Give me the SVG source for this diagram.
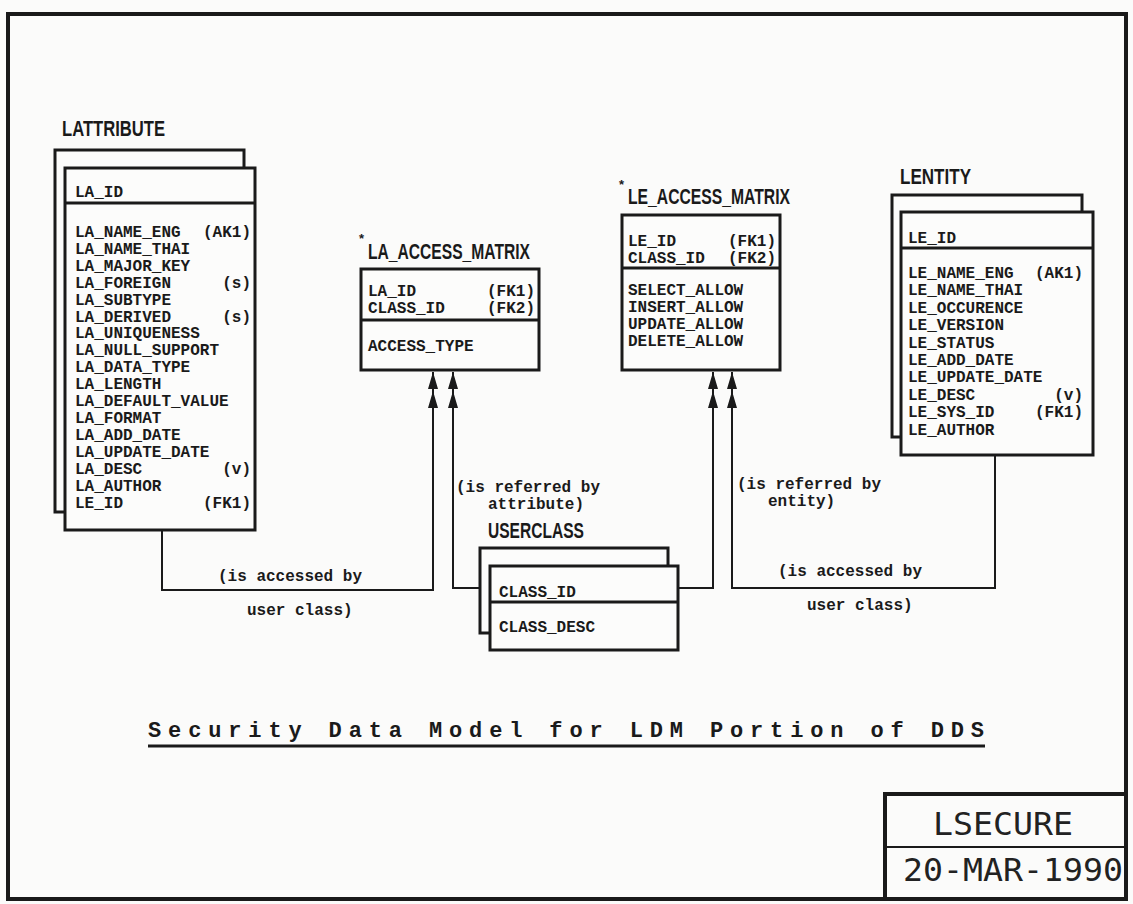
<svg xmlns="http://www.w3.org/2000/svg" width="1133" height="904" viewBox="0 0 1133 904">
  <style>
    .frame { fill: none; stroke: #1a1a1a; }
    .box { fill: #fcfcfb; stroke: #1a1a1a; stroke-width: 3; }
    .sep { stroke: #1a1a1a; stroke-width: 3; }
    .row { font-family: "Liberation Mono", monospace; font-weight: bold; font-size: 16px; fill: #1a1a1a; }
    .note { text-anchor: end; }
    .head { font-family: "Liberation Sans", Arial, sans-serif; font-weight: bold; font-size: 22px; fill: #1a1a1a; }
    .star { font-family: "Liberation Sans", Arial, sans-serif; font-weight: bold; font-size: 13px; fill: #1a1a1a; }
    .lbl { font-family: "Liberation Mono", monospace; font-weight: bold; font-size: 16px; fill: #1a1a1a; }
    .link { fill: none; stroke: #1a1a1a; stroke-width: 2; }
    .title { font-family: "Liberation Mono", monospace; font-weight: bold; font-size: 22px; fill: #1a1a1a; }
    .stamp { font-family: "DejaVu Sans Mono", "Liberation Mono", monospace; font-size: 32px; fill: #222; }
  </style>
  <defs>
    <!-- double filled arrowhead ("many" end) -->
    <marker id="many" markerUnits="userSpaceOnUse" viewBox="-40 -7 42 14" refX="0" refY="0" markerWidth="42" markerHeight="14" orient="auto">
      <path d="M0,0 L-17,-5 L-17,5 Z M-19,0 L-36,-5 L-36,5 Z" fill="#1a1a1a"/>
    </marker>
  </defs>

  <rect width="1133" height="904" fill="#fbfbfa"/>

  <!-- page frame -->
  <rect class="frame" x="8" y="14" width="1118" height="885" stroke-width="4"/>

  <!-- connectors -->
  <g id="connectors">
    <path class="link" d="M162,530 V590 H433 V372" marker-end="url(#many)"/>
    <path class="link" d="M480,588 H453 V372" marker-end="url(#many)"/>
    <path class="link" d="M678,588 H713 V372" marker-end="url(#many)"/>
    <path class="link" d="M995,455 V588 H732 V372" marker-end="url(#many)"/>
    <text class="lbl" x="218" y="581">(is accessed by</text>
    <text class="lbl" x="247" y="615">user class)</text>
    <text class="lbl" x="456" y="492">(is referred by</text>
    <text class="lbl" x="488" y="509">attribute)</text>
    <text class="lbl" x="737" y="489">(is referred by</text>
    <text class="lbl" x="768" y="506">entity)</text>
    <text class="lbl" x="778" y="576">(is accessed by</text>
    <text class="lbl" x="807" y="610">user class)</text>
  </g>

  <!-- LATTRIBUTE -->
  <g id="lattribute">
    <text class="head" x="62" y="136" textLength="103" lengthAdjust="spacingAndGlyphs">LATTRIBUTE</text>
    <rect class="box" x="55" y="150" width="189" height="362"/>
    <rect class="box" x="65" y="168" width="190" height="362"/>
    <line class="sep" x1="65" y1="203" x2="255" y2="203"/>
    <text class="row" x="75" y="197">LA_ID</text>
    <text class="row" x="75" y="237">LA_NAME_ENG</text><text class="row note" x="251" y="237">(AK1)</text>
    <text class="row" x="75" y="254">LA_NAME_THAI</text>
    <text class="row" x="75" y="271">LA_MAJOR_KEY</text>
    <text class="row" x="75" y="288">LA_FOREIGN</text><text class="row note" x="251" y="288">(s)</text>
    <text class="row" x="75" y="305">LA_SUBTYPE</text>
    <text class="row" x="75" y="322">LA_DERIVED</text><text class="row note" x="251" y="322">(s)</text>
    <text class="row" x="75" y="338">LA_UNIQUENESS</text>
    <text class="row" x="75" y="355">LA_NULL_SUPPORT</text>
    <text class="row" x="75" y="372">LA_DATA_TYPE</text>
    <text class="row" x="75" y="389">LA_LENGTH</text>
    <text class="row" x="75" y="406">LA_DEFAULT_VALUE</text>
    <text class="row" x="75" y="423">LA_FORMAT</text>
    <text class="row" x="75" y="440">LA_ADD_DATE</text>
    <text class="row" x="75" y="457">LA_UPDATE_DATE</text>
    <text class="row" x="75" y="474">LA_DESC</text><text class="row note" x="251" y="474">(v)</text>
    <text class="row" x="75" y="491">LA_AUTHOR</text>
    <text class="row" x="75" y="508">LE_ID</text><text class="row note" x="251" y="508">(FK1)</text>
  </g>

  <!-- LA_ACCESS_MATRIX -->
  <g id="la_access_matrix">
    <text class="star" x="359" y="243">*</text>
    <text class="head" x="368" y="259" textLength="162" lengthAdjust="spacingAndGlyphs">LA_ACCESS_MATRIX</text>
    <rect class="box" x="361" y="269" width="178" height="101"/>
    <line class="sep" x1="361" y1="320" x2="539" y2="320"/>
    <text class="row" x="368" y="296">LA_ID</text><text class="row note" x="535" y="296">(FK1)</text>
    <text class="row" x="368" y="313">CLASS_ID</text><text class="row note" x="535" y="313">(FK2)</text>
    <text class="row" x="368" y="351">ACCESS_TYPE</text>
  </g>

  <!-- LE_ACCESS_MATRIX -->
  <g id="le_access_matrix">
    <text class="star" x="619" y="189">*</text>
    <text class="head" x="628" y="204" textLength="162" lengthAdjust="spacingAndGlyphs">LE_ACCESS_MATRIX</text>
    <rect class="box" x="622" y="215" width="158" height="155"/>
    <line class="sep" x1="622" y1="268" x2="780" y2="268"/>
    <text class="row" x="628" y="246">LE_ID</text><text class="row note" x="776" y="246">(FK1)</text>
    <text class="row" x="628" y="263">CLASS_ID</text><text class="row note" x="776" y="263">(FK2)</text>
    <text class="row" x="628" y="295">SELECT_ALLOW</text>
    <text class="row" x="628" y="312">INSERT_ALLOW</text>
    <text class="row" x="628" y="329">UPDATE_ALLOW</text>
    <text class="row" x="628" y="346">DELETE_ALLOW</text>
  </g>

  <!-- LENTITY -->
  <g id="lentity">
    <text class="head" x="900" y="184" textLength="71" lengthAdjust="spacingAndGlyphs">LENTITY</text>
    <rect class="box" x="892" y="195" width="190" height="242"/>
    <rect class="box" x="901" y="212" width="192" height="243"/>
    <line class="sep" x1="901" y1="248" x2="1093" y2="248"/>
    <text class="row" x="908" y="243">LE_ID</text>
    <text class="row" x="908" y="278">LE_NAME_ENG</text><text class="row note" x="1083" y="278">(AK1)</text>
    <text class="row" x="908" y="295">LE_NAME_THAI</text>
    <text class="row" x="908" y="313">LE_OCCURENCE</text>
    <text class="row" x="908" y="330">LE_VERSION</text>
    <text class="row" x="908" y="348">LE_STATUS</text>
    <text class="row" x="908" y="365">LE_ADD_DATE</text>
    <text class="row" x="908" y="382">LE_UPDATE_DATE</text>
    <text class="row" x="908" y="400">LE_DESC</text><text class="row note" x="1083" y="400">(v)</text>
    <text class="row" x="908" y="417">LE_SYS_ID</text><text class="row note" x="1083" y="417">(FK1)</text>
    <text class="row" x="908" y="435">LE_AUTHOR</text>
  </g>

  <!-- USERCLASS -->
  <g id="userclass">
    <text class="head" x="488" y="538" textLength="96" lengthAdjust="spacingAndGlyphs">USERCLASS</text>
    <rect class="box" x="480" y="548" width="188" height="85"/>
    <rect class="box" x="490" y="566" width="188" height="84"/>
    <line class="sep" x1="490" y1="602" x2="678" y2="602"/>
    <text class="row" x="499" y="597">CLASS_ID</text>
    <text class="row" x="499" y="632">CLASS_DESC</text>
  </g>

  <!-- caption -->
  <g id="caption">
    <text class="title" x="148" y="737" textLength="836" lengthAdjust="spacing">Security Data Model for LDM Portion of DDS</text>
    <line x1="148" y1="746" x2="985" y2="746" stroke="#1a1a1a" stroke-width="3"/>
  </g>

  <!-- title block -->
  <g id="title_block">
    <path class="frame" d="M885,900 V794 H1127" stroke-width="4"/>
    <line x1="885" y1="847" x2="1127" y2="847" stroke="#1a1a1a" stroke-width="2"/>
    <text class="stamp" x="1003" y="835" text-anchor="middle" textLength="140" lengthAdjust="spacingAndGlyphs">LSECURE</text>
    <text class="stamp" x="903" y="881" textLength="220" lengthAdjust="spacingAndGlyphs">20-MAR-1990</text>
  </g>
</svg>
